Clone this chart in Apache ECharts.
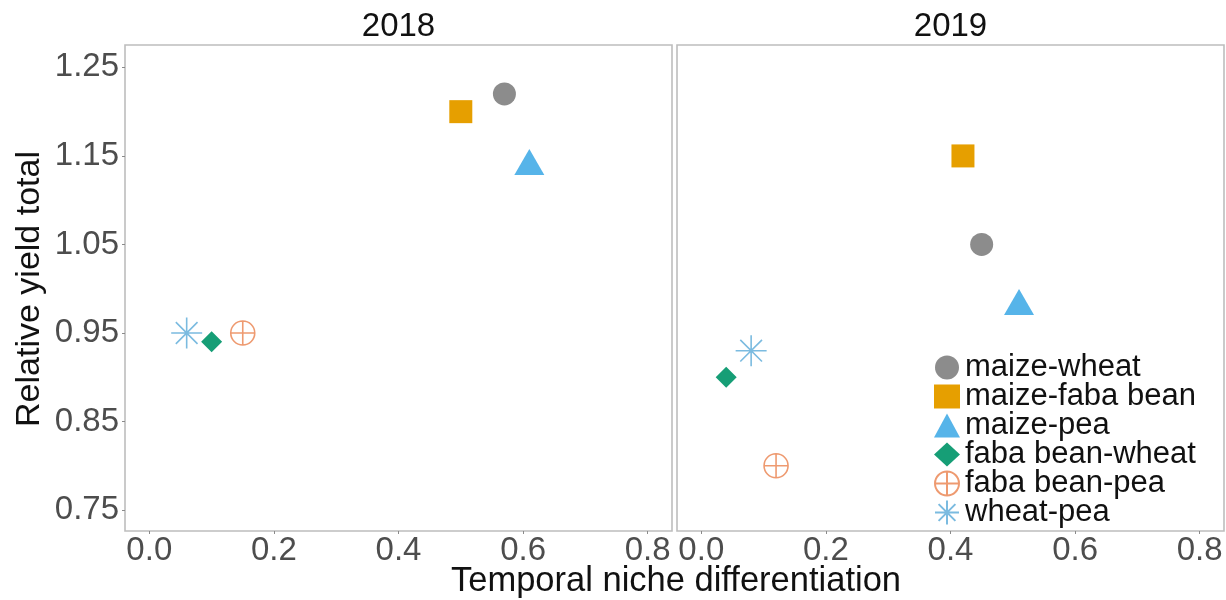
<!DOCTYPE html>
<html>
<head>
<meta charset="utf-8">
<script src="https://cdn.jsdelivr.net/npm/echarts@6/dist/echarts.min.js"></script>
<style>
html,body{margin:0;padding:0;background:#fff;}
#chart{width:1226px;height:600px;}
</style>
</head>
<body>
<div id="chart"></div>
<script>
// ---- data ----
var categories = ['maize-wheat', 'maize-faba bean', 'maize-pea', 'faba bean-wheat', 'faba bean-pea', 'wheat-pea'];
var x2018 = [0.57, 0.50, 0.61, 0.10, 0.15, 0.06];
var y2018 = [1.22, 1.20, 1.143, 0.94, 0.95, 0.95];
var x2019 = [0.45, 0.42, 0.51, 0.04, 0.12, 0.08];
var y2019 = [1.05, 1.15, 0.985, 0.90, 0.80, 0.93];
var panelTitles = ['2018', '2019'];
var xTicks = [0.0, 0.2, 0.4, 0.6, 0.8];
var yTicks = [0.75, 0.85, 0.95, 1.05, 1.15, 1.25];

// ---- styles ----
var colors = ['#8c8c8c', '#E69F00', '#56B4E9', '#169E76', '#EE9A70', '#7BBBE0'];
var symbols = [
  'circle',
  'rect',
  'triangle',
  'diamond',
  'path://M-10 0 A10 10 0 1 1 10 0 A10 10 0 1 1 -10 0 Z M-10 0 L10 0 M0 -10 L0 10',
  'path://M0 -10 L0 10 M-10 0 L10 0 M-7 -7 L7 7 M-7 7 L7 -7'
];
var sizes = [[23, 23], [23, 23], [30, 26], [21, 21], [24, 24], [31, 31]];
var hollow = [false, false, false, false, true, true];

var chart = echarts.init(document.getElementById('chart'), null, {renderer: 'canvas'});

var grids = [
  {left: 125, top: 45, width: 547, height: 486},
  {left: 677, top: 45, width: 547, height: 486}
];

function xAxisFor(i) {
  return {
    type: 'value', gridIndex: i, min: -0.039, max: 0.839,
    splitLine: {show: false},
    axisLine: {show: false, onZero: false},
    axisTick: {show: true, length: 3, lineStyle: {color: '#8a8a8a', width: 1}, customValues: xTicks},
    axisLabel: {
      show: true, customValues: xTicks, margin: 3,
      fontFamily: 'Liberation Sans', fontSize: 33, color: '#4d4d4d',
      formatter: function (v) { return v.toFixed(1); }
    }
  };
}
function yAxisFor(i) {
  return {
    type: 'value', gridIndex: i, min: 0.7263, max: 1.2753,
    splitLine: {show: false},
    axisLine: {show: false, onZero: false},
    axisTick: {show: i === 0, length: 3, lineStyle: {color: '#8a8a8a', width: 1}, customValues: yTicks},
    axisLabel: {
      show: i === 0, customValues: yTicks, margin: 6,
      fontFamily: 'Liberation Sans', fontSize: 33, color: '#4d4d4d',
      formatter: function (v) { return v.toFixed(2); }
    }
  };
}

var series = [];
var years = [[x2018, y2018], [x2019, y2019]];
for (var g = 0; g < 2; g++) {
  for (var k = 0; k < categories.length; k++) {
    var style = hollow[k]
      ? {color: 'rgba(0,0,0,0)', borderColor: colors[k], borderWidth: 1.6, opacity: 1}
      : {color: colors[k], opacity: 1};
    series.push({
      name: categories[k],
      type: 'scatter',
      xAxisIndex: g, yAxisIndex: g,
      symbol: symbols[k],
      symbolSize: sizes[k],
      symbolKeepAspect: true,
      itemStyle: style,
      emphasis: {disabled: true},
      animation: false,
      data: [[years[g][0][k], years[g][1][k]]]
    });
  }
}

var legendData = categories.map(function (c, k) { return {name: c, icon: symbols[k]}; });

chart.setOption({
  backgroundColor: '#ffffff',
  animation: false,
  grid: grids.map(function (gr) {
    return Object.assign({show: true, borderColor: '#bdbdbd', borderWidth: 1.6, backgroundColor: '#fff'}, gr);
  }),
  xAxis: [xAxisFor(0), xAxisFor(1)],
  yAxis: [yAxisFor(0), yAxisFor(1)],
  legend: {
    data: legendData,
    orient: 'vertical',
    left: 934, top: 352,
    padding: 0,
    itemGap: -2,
    itemWidth: 26, itemHeight: 24,
    selectedMode: false,
    textStyle: {fontFamily: 'Liberation Sans', fontSize: 31, color: '#111', padding: [0, 0, 0, 0]}
  },
  graphic: [
    {type: 'text', x: 398.5, y: 27, style: {text: panelTitles[0], font: '33px "Liberation Sans"', fill: '#111', textAlign: 'center', textVerticalAlign: 'middle'}},
    {type: 'text', x: 950.5, y: 27, style: {text: panelTitles[1], font: '33px "Liberation Sans"', fill: '#111', textAlign: 'center', textVerticalAlign: 'middle'}},
    {type: 'text', x: 676, y: 581, style: {text: 'Temporal niche differentiation', font: '34.5px "Liberation Sans"', fill: '#111', textAlign: 'center', textVerticalAlign: 'middle'}},
    {type: 'text', x: 30, y: 289, rotation: Math.PI / 2, style: {text: 'Relative yield total', font: '34px "Liberation Sans"', fill: '#111', textAlign: 'center', textVerticalAlign: 'middle'}}
  ],
  series: series
});
</script>
</body>
</html>
